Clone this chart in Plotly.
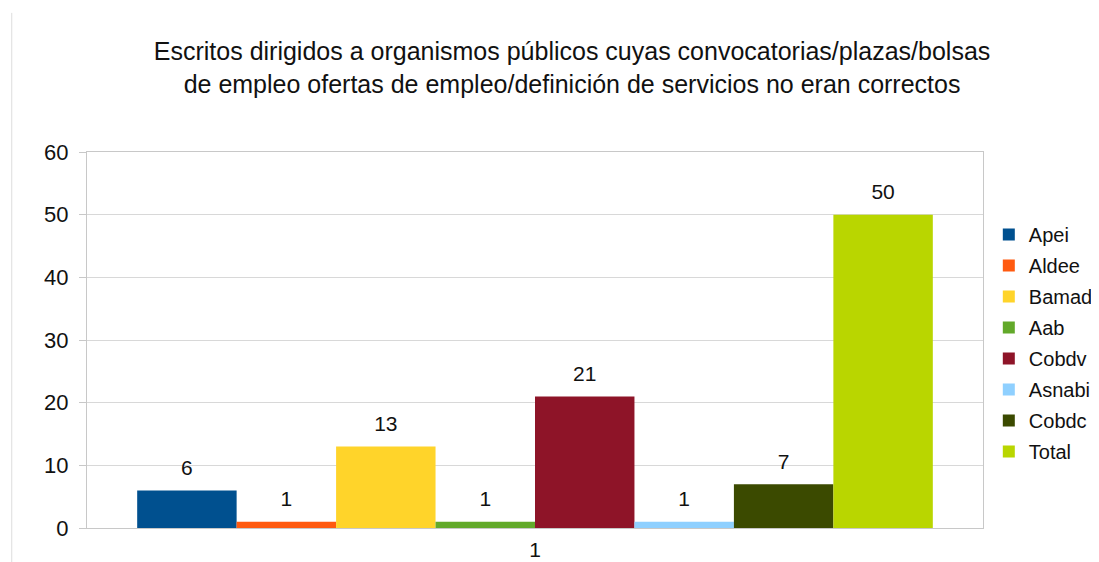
import plotly.graph_objects as go

# Datos
category = ["1"]
series = ["Apei", "Aldee", "Bamad", "Aab", "Cobdv", "Asnabi", "Cobdc", "Total"]
values = [6, 1, 13, 1, 21, 1, 7, 50]
colors = ["#00508f", "#ff5a10", "#ffd42a", "#62a92a", "#8e1428", "#8fd0ff", "#3b4a00", "#b9d600"]

fig = go.Figure()

for name, val, col in zip(series, values, colors):
    fig.add_trace(go.Bar(
        x=category,
        y=[val],
        name=name,
        legendgroup=name,
        marker=dict(color=col, line=dict(width=0)),
        text=[val],
        texttemplate="<span style='font-size:21px'>%{y}</span><br> ",
        textposition="outside",
        textfont=dict(size=8, color="#111111"),
        cliponaxis=False,
    ))

fig.update_layout(
    width=1091,
    height=554,
    barmode="group",
    bargap=0.112,
    bargroupgap=0,
    paper_bgcolor="white",
    plot_bgcolor="white",
    font=dict(family="Liberation Sans, Arial, sans-serif", color="#111111"),
    title=dict(
        text="Escritos dirigidos a organismos públicos cuyas convocatorias/plazas/bolsas<br>"
             "de empleo ofertas de empleo/definición de servicios no eran correctos",
        x=0.517, xanchor="center", y=0.906, yanchor="middle",
        font=dict(size=25, color="#111111"),
    ),
    margin=dict(l=79, r=116, t=144, b=34),
    xaxis=dict(
        showline=True, linecolor="#c8c8c8", linewidth=1, mirror=True,
        showgrid=False, ticks="", tickfont=dict(size=21), automargin=False,
        ticklabelstandoff=3,
    ),
    yaxis=dict(
        range=[0, 60], dtick=10,
        showline=True, linecolor="#c8c8c8", linewidth=1, mirror=True,
        showgrid=True, gridcolor="#d8d8d8", gridwidth=1,
        ticks="outside", ticklen=7, tickcolor="#c8c8c8", ticklabelstandoff=6,
        tickfont=dict(size=22), zeroline=False, automargin=False,
    ),
    legend=dict(
        xref="container", x=0.899, xanchor="left",
        yref="paper", y=0.492, yanchor="middle",
        font=dict(size=20), itemwidth=30, tracegroupgap=2,
    ),
    showlegend=True,
)

fig.add_shape(type="line", xref="paper", yref="paper", x0=-0.084, x1=-0.084, y0=-0.1, y1=1.37,
              line=dict(color="#dddddd", width=1))

fig.write_html("out.html")
